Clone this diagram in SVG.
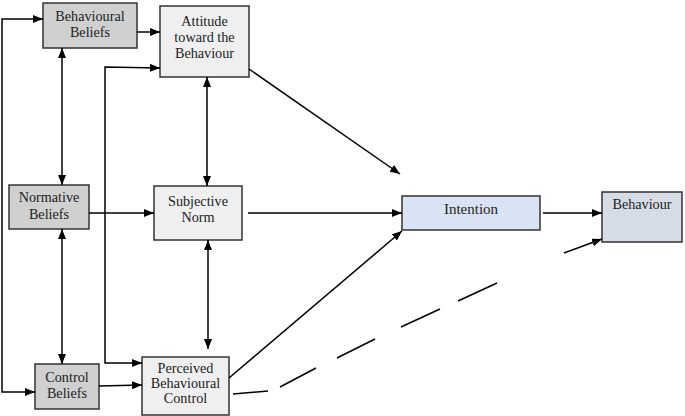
<svg xmlns="http://www.w3.org/2000/svg" width="685" height="416" viewBox="0 0 685 416">
<defs>
<marker id="ah" viewBox="0 0 10 8" refX="10" refY="4" markerWidth="10" markerHeight="8" markerUnits="userSpaceOnUse" orient="auto-start-reverse">
<path d="M0,0 L10,4 L0,8 Z" fill="#000"/>
</marker>
</defs>
<style>
.box{stroke:#333;stroke-width:1.5}
.belief{fill:#d0d0d0}
.mid{fill:#efefef}
.int{fill:#dae3f3}
.beh{fill:#d6dce5}
text{font-family:"Liberation Serif","Times New Roman",serif;font-size:14.2px;fill:#222;text-anchor:middle}
.c line,.c path{stroke:#000;stroke-width:1.5;fill:none}
</style>
<rect width="685" height="416" fill="#fff"/>
<g id="behavioural-beliefs"><rect class="box belief" x="43" y="3" width="94" height="45"/><text x="90" y="21">Behavioural</text><text x="90" y="37">Beliefs</text></g>
<g id="attitude"><rect class="box mid" x="160" y="6" width="89" height="71"/><text x="204.5" y="26">Attitude</text><text x="204.5" y="42">toward the</text><text x="204.5" y="58">Behaviour</text></g>
<g id="normative-beliefs"><rect class="box belief" x="9" y="185" width="80" height="44"/><text x="49" y="202">Normative</text><text x="49" y="219">Beliefs</text></g>
<g id="subjective-norm"><rect class="box mid" x="154" y="186" width="88" height="54"/><text x="198" y="206">Subjective</text><text x="198" y="222">Norm</text></g>
<g id="control-beliefs"><rect class="box belief" x="35" y="364" width="64" height="45"/><text x="67" y="382">Control</text><text x="67" y="398">Beliefs</text></g>
<g id="pbc"><rect class="box mid" x="142" y="357" width="87" height="58"/><text x="185.5" y="373">Perceived</text><text x="185.5" y="388">Behavioural</text><text x="185.5" y="403">Control</text></g>
<g id="intention"><rect class="box int" x="402" y="196" width="138" height="34"/><text x="471" y="214" style="font-size:15px">Intention</text></g>
<g id="behaviour"><rect class="box beh" x="602" y="192" width="80" height="50"/><text x="642" y="209">Behaviour</text></g>
<g id="connectors" class="c">
<path d="M43,19 H2 V392 H35" marker-start="url(#ah)" marker-end="url(#ah)"/>
<line x1="137" y1="32" x2="160" y2="32" marker-end="url(#ah)"/>
<path d="M160,68 L105,67 V363 H142" marker-start="url(#ah)" marker-end="url(#ah)"/>
<line x1="62" y1="48" x2="62" y2="185" marker-start="url(#ah)" marker-end="url(#ah)"/>
<line x1="62" y1="229" x2="62" y2="364" marker-start="url(#ah)" marker-end="url(#ah)"/>
<line x1="207" y1="77" x2="207" y2="186" marker-start="url(#ah)" marker-end="url(#ah)"/>
<line x1="208" y1="240" x2="208" y2="349" marker-start="url(#ah)" marker-end="url(#ah)"/>
<line x1="89" y1="213" x2="154" y2="213" marker-end="url(#ah)"/>
<line x1="99" y1="386" x2="142" y2="385" marker-end="url(#ah)"/>
<line x1="248" y1="213" x2="402" y2="213" marker-end="url(#ah)"/>
<line x1="543" y1="213" x2="602" y2="213" marker-end="url(#ah)"/>
<line x1="249" y1="69" x2="400" y2="174" marker-end="url(#ah)"/>
<line x1="229" y1="378" x2="402" y2="231" marker-end="url(#ah)"/>
<path d="M233,394 L268,391 M280,387 L316,368 M337,358 L375,339 M401,327 L440,309 M458,301 L497,283"/>
<line x1="564" y1="253" x2="602" y2="239" marker-end="url(#ah)"/>
</g>
</svg>
